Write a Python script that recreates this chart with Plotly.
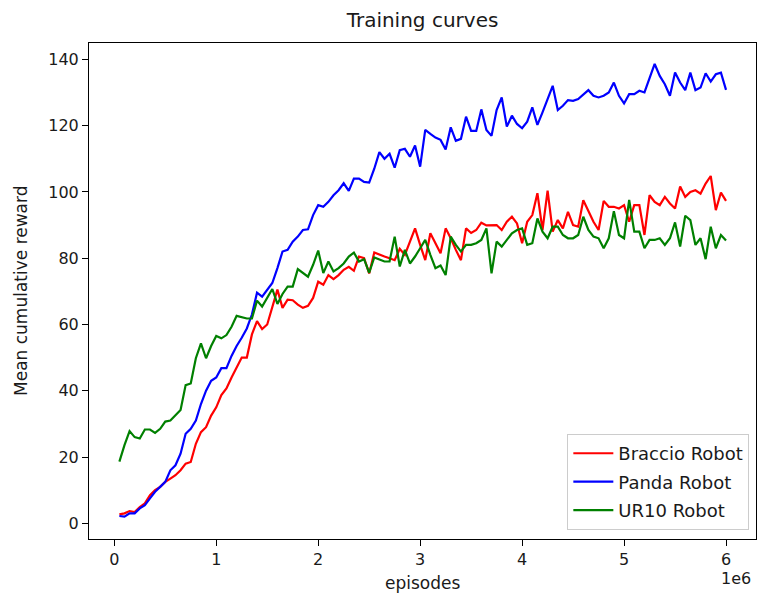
import plotly.graph_objects as go

episodes = [round(0.05e6 * (i + 1)) for i in range(120)]

braccio = [2.7, 3.0, 3.7, 3.4, 4.9, 6, 8.5, 10, 11, 12.5,
           13.5, 14.5, 16, 18, 18.5, 24, 27.5, 29, 32.5, 35,
           38.7, 40.7, 44, 47, 50, 50, 57, 61, 58.6, 60,
           65, 70.5, 65, 67.5, 67.3, 66, 65, 65.6, 68, 72.9,
           72, 74.9, 73.7, 74.9, 76.5, 77.4, 76.2, 80.5, 80, 75.4,
           81.7, 81, 80.5, 80, 79.4, 82.8, 81, 85, 89, 84,
           79.4, 87.5, 84.5, 81.5, 89, 86, 82.5, 79.4, 89, 87.6,
           88.5, 90.7, 89.9, 90, 90, 88.5, 91, 92.5, 90.5, 84.5,
           91, 93, 99.6, 88.5, 100.4, 88, 91.5, 89, 94, 90,
           89.5, 97.5, 94, 91, 88.5, 97.3, 95.5, 95.5, 95, 96,
           91, 96, 96, 87, 99, 97, 96, 98.5, 96.5, 95,
           101.6, 98.5, 100, 100.5, 99.5, 102.5, 104.8, 94.5, 99.8, 97.3]

panda = [2.2, 2.0, 3.0, 3.0, 4.5, 5.5, 7.5, 9.5, 11, 12.5,
         16, 17.5, 21, 27, 28.5, 31, 36, 40, 43, 44,
         46.8, 46.8, 50.5, 53.5, 56, 58.8, 63, 69.6, 68.4, 70.5,
         72.5, 77, 82, 82.5, 85, 86.5, 88.5, 88.7, 93, 96,
         95.5, 97, 99, 100.5, 102.6, 100.3, 104, 104, 103, 102.8,
         107, 112, 110, 111.5, 107.3, 112.6, 113, 110.6, 114, 107.6,
         118.7, 117.5, 116.4, 115.7, 112.8, 119.5, 115.4, 116, 122.7, 118.4,
         118.4, 124.9, 118.7, 116.9, 124.7, 128.5, 119.7, 123, 120.5, 119.2,
         121.2, 125.5, 120.2, 124, 128, 132, 124.7, 126, 127.7, 127.5,
         128, 129.5, 130.7, 129, 128.5, 129, 130, 133, 129, 126.7,
         129.5, 129.5, 130.5, 130, 134, 138.6, 135, 132.5, 129, 136,
         133, 130.7, 136, 130.7, 131.5, 135.8, 133.3, 135.5, 136, 130.8]

ur10 = [18.6, 23.6, 27.8, 26, 25.6, 28.3, 28.3, 27.3, 28.5, 30.7,
        31, 32.5, 34.2, 41.7, 42.2, 49.8, 54.3, 49.8, 53.5, 56.5,
        55.8, 56.8, 59.3, 62.6, 62.3, 61.8, 61.8, 67.2, 65.4, 67.9,
        70.7, 66.2, 69.2, 71.4, 71.4, 76.7, 75.6, 74.4, 78, 82.3,
        75.5, 79, 76, 77, 78.4, 80.5, 81.7, 79, 79.7, 75.6,
        80.2, 79.5, 79, 79, 86.5, 77.5, 82.5, 78.4, 80.5, 83,
        85.5, 81, 77, 77.8, 74.9, 86.5, 84, 82, 84, 84,
        84.5, 85.5, 89, 75.4, 85, 83.5, 85.5, 87.5, 88.5, 89,
        84, 84.5, 92, 88, 86, 89.5, 89.5, 87, 86, 86,
        87, 92.5, 88.5, 86.5, 86, 83, 86, 94.2, 87, 86,
        97.6, 88, 88, 83, 85.5, 85.5, 86, 84, 86, 90.8,
        83.5, 92.8, 91.5, 84, 86, 79.7, 89.5, 83, 87, 85.3]

series_names = ["Braccio Robot", "Panda Robot", "UR10 Robot"]
series_values = [braccio, panda, ur10]
series_colors = ["#ff0000", "#0000ff", "#008000"]

xtick_vals = [0, 1e6, 2e6, 3e6, 4e6, 5e6, 6e6]
xtick_text = ["0", "1", "2", "3", "4", "5", "6"]
ytick_vals = [0, 20, 40, 60, 80, 100, 120, 140]

FONT = "DejaVu Sans"
TEXT = "#1a1a1a"

fig = go.Figure()
for name, vals, col in zip(series_names, series_values, series_colors):
    fig.add_trace(go.Scatter(x=episodes, y=vals, mode="lines", name=name,
                             legendgroup=name,
                             line=dict(color=col, width=2.2)))

axis_common = dict(showline=True, linecolor="black", linewidth=1, mirror=True,
                   ticks="outside", ticklen=6, tickcolor="black", tickwidth=1,
                   showgrid=False, zeroline=False,
                   tickfont=dict(family=FONT, size=16, color=TEXT))

fig.update_layout(
    width=757, height=596,
    margin=dict(l=89, r=1, t=43, b=57),
    paper_bgcolor="white", plot_bgcolor="white",
    font=dict(family=FONT, size=16, color=TEXT),
    title=dict(text="Training curves", x=0.5, xref="paper", xanchor="center",
               y=1 - 20 / 596, yref="container", yanchor="middle",
               font=dict(family=FONT, size=20, color=TEXT)),
    xaxis=dict(range=[-0.248e6, 6.294e6], tickvals=xtick_vals, ticktext=xtick_text,
               **axis_common),
    yaxis=dict(range=[-4.74, 144.93], tickvals=ytick_vals, **axis_common),
    legend=dict(x=0.99, xanchor="right", y=0.018, yanchor="bottom",
                bgcolor="rgba(255,255,255,0.8)", bordercolor="#cccccc", borderwidth=1,
                font=dict(family=FONT, size=18, color=TEXT),
                itemwidth=40, tracegroupgap=2),
    showlegend=True,
    annotations=[
        dict(text="episodes", x=0.5, xref="paper", y=(539 - 583) / 496, yref="paper",
             xanchor="center", yanchor="middle", showarrow=False,
             font=dict(family=FONT, size=17, color=TEXT)),
        dict(text="Mean cumulative reward", x=(21 - 89) / 667, xref="paper",
             y=0.5, yref="paper", textangle=-90, xanchor="center", yanchor="middle",
             showarrow=False, font=dict(family=FONT, size=17, color=TEXT)),
        dict(text="1e6", x=(736 - 89) / 667, xref="paper", y=(539 - 578) / 496,
             yref="paper", xanchor="center", yanchor="middle", showarrow=False,
             font=dict(family=FONT, size=16, color=TEXT)),
    ],
)

fig.write_html("out.html", config={"displayModeBar": False},
               post_script="document.body.style.margin='0px';document.body.style.overflow='hidden';")
